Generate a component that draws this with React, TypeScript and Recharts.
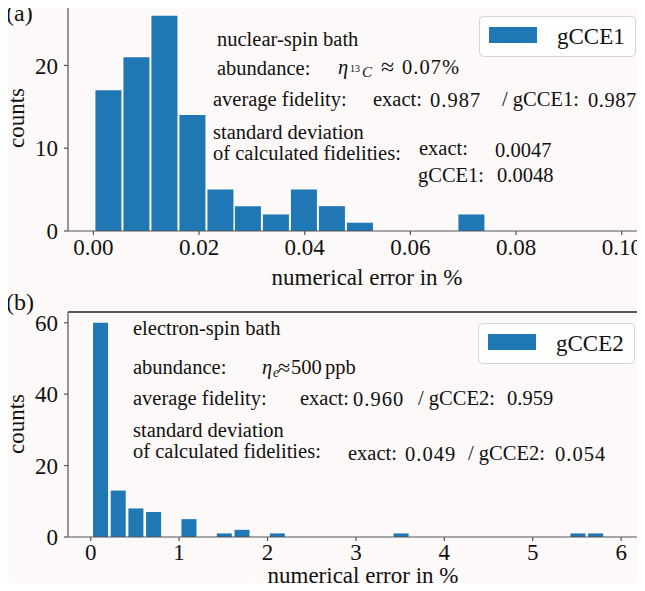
import { Bar, BarChart, Legend, ReferenceLine, XAxis, YAxis } from "recharts";

// (a) nuclear-spin bath histogram, bin centres in % and counts
const topBinCenters = [0.0028, 0.0081, 0.0134, 0.0187, 0.024, 0.0292, 0.0345, 0.0398, 0.0451, 0.0504, 0.0715];
const topCounts = [17, 21, 26, 14, 5, 3, 2, 5, 3, 1, 2];
const topXTicks = [0, 0.02, 0.04, 0.06, 0.08, 0.1];
const topYTicks = [0, 10, 20];

// (b) electron-spin bath histogram
const bottomBinCenters = [0.115, 0.315, 0.515, 0.715, 1.115, 1.515, 1.715, 2.115, 3.515, 5.515, 5.715];
const bottomCounts = [60, 13, 8, 7, 5, 1, 2, 1, 1, 1, 1];
const bottomXTicks = [0, 1, 2, 3, 4, 5, 6];
const bottomYTicks = [0, 20, 40, 60];

const BLUE = "#1f77b4";
const BG = "#fdf9f8";
const SERIF = "Liberation Serif, Tinos, Times New Roman, DejaVu Serif, serif";

const tickStyle = { fill: "#111", fontSize: 23, fontFamily: SERIF } as const;
const axisStroke = { stroke: "#555", strokeWidth: 1.2 } as const;

function LegendBox({ label }: { label: string }) {
  return (
    <svg width={157} height={41} style={{ display: "block" }}>
      <rect x={0.5} y={0.5} width={156} height={40} rx={4} fill="#ffffff" fillOpacity={0.8} stroke="#d4d4d4" />
      <rect x={10} y={11} width={48} height={16} fill={BLUE} />
      <text x={78} y={27.5} fontSize={23} fontFamily={SERIF} fill="#111">
        {label}
      </text>
    </svg>
  );
}

function Histogram({
  centers,
  counts,
  xDomain,
  xTicks,
  yMax,
  yTicks,
  fmt,
  barSize,
  height,
  marginTop,
  xAxisHeight,
  tickMargin,
  spine,
  legend,
  legendPos,
}: {
  centers: number[];
  counts: number[];
  xDomain: [number, number];
  xTicks: number[];
  yMax: number;
  yTicks: number[];
  fmt: (v: number) => string;
  barSize: number;
  height: number;
  marginTop: number;
  xAxisHeight: number;
  tickMargin: number;
  spine: string;
  legend: string;
  legendPos: { left: number; top: number };
}) {
  const data = centers.map((x, i) => ({ x, count: counts[i] }));
  return (
    <BarChart
      width={645}
      height={height}
      data={data}
      margin={{ top: marginTop, right: 0, bottom: 0, left: 0 }}
    >
      <XAxis
        dataKey="x"
        type="number"
        domain={xDomain}
        allowDataOverflow
        ticks={xTicks}
        interval={0}
        tickFormatter={fmt}
        tick={tickStyle}
        tickSize={4}
        tickMargin={tickMargin}
        tickLine={axisStroke}
        axisLine={axisStroke}
        height={xAxisHeight}
      />
      <YAxis
        type="number"
        domain={[0, yMax]}
        allowDataOverflow
        ticks={yTicks}
        interval={0}
        tick={tickStyle}
        tickSize={4}
        tickMargin={6}
        tickLine={axisStroke}
        axisLine={axisStroke}
        width={68}
      />
      <ReferenceLine y={yMax} stroke={spine} strokeWidth={1.4} />
      <Bar dataKey="count" fill={BLUE} barSize={barSize} isAnimationActive={false} />
      <Legend
        layout="vertical"
        align="center"
        verticalAlign="middle"
        wrapperStyle={{ left: legendPos.left, top: legendPos.top, width: 157, height: 41 }}
        content={() => <LegendBox label={legend} />}
      />
    </BarChart>
  );
}

export default function App() {
  const t = { fontFamily: SERIF, fill: "#111" } as const;
  const ann = { ...t, fontSize: 20.5 } as const;
  const big = { ...t, fontSize: 23 } as const;

  return (
    <div
      style={{
        position: "relative",
        width: 645,
        height: 591,
        margin: -8,
        background: BG,
        overflow: "hidden",
      }}
    >
      <div style={{ position: "absolute", left: 0, top: 0 }}>
        <Histogram
          centers={topBinCenters}
          counts={topCounts}
          xDomain={[-0.0048, 0.1044]}
          xTicks={topXTicks}
          yMax={27.3}
          yTicks={topYTicks}
          fmt={(v) => v.toFixed(2)}
          barSize={26}
          height={290}
          marginTop={5}
          xAxisHeight={59}
          tickMargin={4}
          spine="#555"
          legend="gCCE1"
          legendPos={{ left: 479, top: 16 }}
        />
      </div>
      <div style={{ position: "absolute", left: 0, top: 290 }}>
        <Histogram
          centers={bottomBinCenters}
          counts={bottomCounts}
          xDomain={[-0.257, 6.27]}
          xTicks={bottomXTicks}
          yMax={63}
          yTicks={bottomYTicks}
          fmt={(v) => String(v)}
          barSize={15}
          height={301}
          marginTop={22}
          xAxisHeight={54}
          tickMargin={3}
          spine="#222"
          legend="gCCE2"
          legendPos={{ left: 478, top: 33 }}
        />
      </div>

      <svg
        width={645}
        height={591}
        style={{ position: "absolute", left: 0, top: 0, pointerEvents: "none" }}
      >
        {/* panel labels and axis titles */}
        <text x={6} y={21} {...big} fontSize={24}>(a)</text>
        <text x={6} y={310} {...big} fontSize={24}>(b)</text>
        <text x={23.5} y={118} transform="rotate(-90 23.5 118)" textAnchor="middle" {...big}>counts</text>
        <text x={23.5} y={424} transform="rotate(-90 23.5 424)" textAnchor="middle" {...big}>counts</text>
        <text x={367} y={285} textAnchor="middle" {...big}>numerical error in %</text>
        <text x={363} y={583} textAnchor="middle" {...big}>numerical error in %</text>

        {/* (a) annotations */}
        <text x={217} y={46} {...ann}>nuclear-spin bath</text>
        <text x={217} y={75} {...ann}>abundance:</text>
        <text x={338} y={74} fontStyle="italic" {...ann}>η</text>
        <text x={350} y={72} {...t} fontSize={10}>13</text>
        <text x={362} y={77} fontStyle="italic" {...t} fontSize={15}>C</text>
        <text x={381} y={75} {...t} fontSize={24}>≈</text>
        <text x={402} y={74} {...ann} letterSpacing={1}>0.07%</text>
        <text x={213} y={106} {...ann}>average fidelity:</text>
        <text x={373} y={106} {...ann}>exact:</text>
        <text x={430} y={107} {...ann} letterSpacing={1}>0.987</text>
        <text x={502} y={106} {...ann}>/ gCCE1:</text>
        <text x={588} y={107} {...ann} letterSpacing={0.5}>0.987</text>
        <text x={213} y={139} {...ann}>standard deviation</text>
        <text x={213} y={160} {...ann}>of calculated fidelities:</text>
        <text x={419} y={155} {...ann}>exact:</text>
        <text x={495} y={157} {...ann}>0.0047</text>
        <text x={418} y={182} {...ann}>gCCE1:</text>
        <text x={497} y={182} {...ann}>0.0048</text>

        {/* (b) annotations */}
        <text x={133} y={335} {...ann}>electron-spin bath</text>
        <text x={133} y={374} {...ann}>abundance:</text>
        <text x={262} y={374} fontStyle="italic" {...ann}>η</text>
        <text x={273} y={377} fontStyle="italic" {...t} fontSize={14}>e</text>
        <text x={278} y={375} {...t} fontSize={22}>≈</text>
        <text x={291} y={374} {...ann}>500</text>
        <text x={325} y={374} {...ann}>ppb</text>
        <text x={133} y={405} {...ann}>average fidelity:</text>
        <text x={300} y={405} {...ann}>exact:</text>
        <text x={353} y={406} {...ann} letterSpacing={1}>0.960</text>
        <text x={418} y={405} {...ann}>/ gCCE2:</text>
        <text x={507} y={405} {...ann}>0.959</text>
        <text x={133} y={437} {...ann}>standard deviation</text>
        <text x={133} y={458} {...ann}>of calculated fidelities:</text>
        <text x={348} y={460} {...ann}>exact:</text>
        <text x={405} y={461} {...ann} letterSpacing={1}>0.049</text>
        <text x={468} y={460} {...ann}>/ gCCE2:</text>
        <text x={555} y={461} {...ann} letterSpacing={1}>0.054</text>
      </svg>
    </div>
  );
}
